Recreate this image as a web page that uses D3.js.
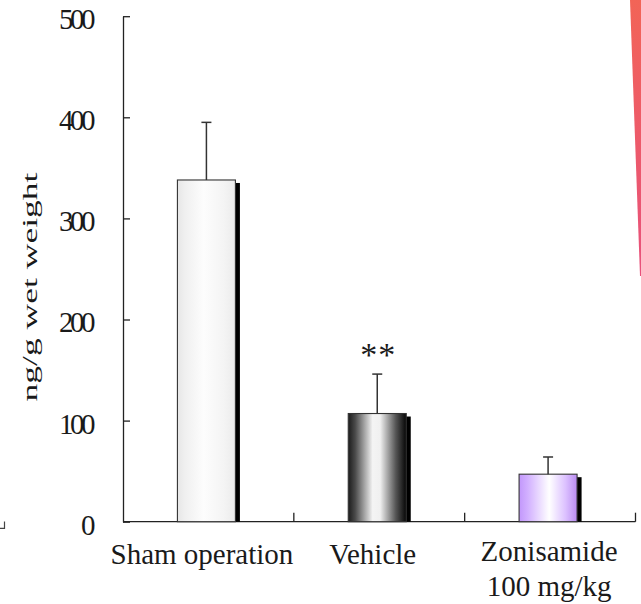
<!DOCTYPE html>
<html>
<head>
<meta charset="utf-8">
<script src="https://cdn.jsdelivr.net/npm/d3@7"></script>
<style>
  html, body { margin: 0; padding: 0; background: #fff; }
  svg { display: block; }
  text { font-family: "Liberation Serif", "Times New Roman", serif; fill: #1a1a1a; }
</style>
</head>
<body>
<svg id="chart" width="641" height="604"></svg>
<script>
// Tissue content per group (mean and upward SEM)
const categories = ["Sham operation", "Vehicle", "Zonisamide 100 mg/kg"];
const labelLines = [["Sham operation"], ["Vehicle"], ["Zonisamide", "100 mg/kg"]];
const means = [338, 107, 47];
const sems = [57, 39, 17];
const marks = ["", "**", ""];
const yTicks = [0, 100, 200, 300, 400, 500];
const yLabel = "ng/g wet weight";

const svg = d3.select("#chart");
const W = 641, H = 604;

svg.append("rect").attr("width", W).attr("height", H).attr("fill", "#fff");

// Gradients for the three bar fills
const defs = svg.append("defs");
const gradSpecs = [
  { id: "g-sham", stops: [[0, "#e6e6e6"], [0.12, "#efefef"], [0.45, "#fdfdfd"], [0.8, "#f4f4f4"], [1, "#ebebeb"]] },
  { id: "g-veh", stops: [[0, "#1c1c1c"], [0.12, "#4a4a4a"], [0.42, "#f4f4f4"], [0.55, "#f0f0f0"], [0.82, "#555"], [1, "#050505"]] },
  { id: "g-zon", stops: [[0, "#c297fb"], [0.15, "#d2b0ff"], [0.52, "#ffffff"], [0.8, "#dcc1ff"], [1, "#b98bf2"]] }
];
gradSpecs.forEach(g => {
  const lg = defs.append("linearGradient").attr("id", g.id)
    .attr("x1", "0").attr("x2", "1").attr("y1", "0").attr("y2", "0");
  g.stops.forEach(s => lg.append("stop").attr("offset", s[0]).attr("stop-color", s[1]));
});
const stripe = defs.append("linearGradient").attr("id", "g-stripe")
  .attr("x1", "0").attr("x2", "0").attr("y1", "0").attr("y2", "1");
stripe.append("stop").attr("offset", 0).attr("stop-color", "#f26457");
stripe.append("stop").attr("offset", 1).attr("stop-color", "#e8517c");

// Scales
const y = d3.scaleLinear().domain([0, 500]).range([521.7, 16.2]);
const x = d3.scaleBand().domain(categories).range([123, 635.5]).padding(0);
const step = x.step();
const barW = 58, shadowW = 4.5, shadowDy = 3;

// Y axis with inward ticks
const yAxis = d3.axisLeft(y).tickValues(yTicks).tickSize(-7).tickSizeOuter(0).tickPadding(31)
  .tickFormat(d3.format("d"));
const gy = svg.append("g").attr("transform", "translate(123,0)").call(yAxis);
gy.attr("font-family", null);
gy.select(".domain").attr("stroke", "#222").attr("stroke-width", 1.3);
gy.selectAll(".tick line").attr("stroke", "#222").attr("stroke-width", 1.3);
gy.selectAll(".tick text")
  .attr("font-size", 29).attr("fill", "#1a1a1a")
  .attr("letter-spacing", -3.5)
  .attr("dy", "0.43em");

// X axis baseline with upward ticks at the band boundaries
const gx = svg.append("g");
gx.append("line")
  .attr("x1", x.range()[0]).attr("x2", x.range()[1])
  .attr("y1", y(0)).attr("y2", y(0))
  .attr("stroke", "#222").attr("stroke-width", 1.3);
gx.selectAll("line.xt").data(categories).join("line").attr("class", "xt")
  .attr("x1", d => x(d) + step).attr("x2", d => x(d) + step)
  .attr("y1", y(0)).attr("y2", y(0) - 9)
  .attr("stroke", "#222").attr("stroke-width", 1.3);

// Bars
const bars = svg.append("g").selectAll("g.bar").data(categories).join("g").attr("class", "bar");
const cx = (d) => x(d) + step / 2 - 2;
bars.append("rect") // drop shadow
  .attr("x", d => cx(d) + barW / 2 - 0.5)
  .attr("y", (d, i) => y(means[i]) + shadowDy)
  .attr("width", shadowW + 0.5)
  .attr("height", (d, i) => y(0) - y(means[i]) - shadowDy)
  .attr("fill", "#000");
bars.append("rect")
  .attr("x", d => cx(d) - barW / 2)
  .attr("y", (d, i) => y(means[i]))
  .attr("width", barW)
  .attr("height", (d, i) => y(0) - y(means[i]))
  .attr("fill", (d, i) => `url(#${gradSpecs[i].id})`)
  .attr("stroke", "#333").attr("stroke-width", 1.1);

// Error bars (upper half only)
bars.append("line")
  .attr("x1", d => cx(d)).attr("x2", d => cx(d))
  .attr("y1", (d, i) => y(means[i])).attr("y2", (d, i) => y(means[i] + sems[i]))
  .attr("stroke", "#333").attr("stroke-width", 1.5);
bars.append("line")
  .attr("x1", d => cx(d) - 5).attr("x2", d => cx(d) + 5)
  .attr("y1", (d, i) => y(means[i] + sems[i])).attr("y2", (d, i) => y(means[i] + sems[i]))
  .attr("stroke", "#333").attr("stroke-width", 1.5);

// Significance marks
bars.append("text")
  .attr("x", d => cx(d) + 1)
  .attr("y", (d, i) => y(means[i] + sems[i]) - 8)
  .attr("text-anchor", "middle")
  .attr("font-size", 34).attr("letter-spacing", 1)
  .attr("fill", "#333")
  .text((d, i) => marks[i]);

// Category labels (two-line label sits centred on its band, single lines slightly left)
const lab = svg.append("g").selectAll("text").data(categories).join("text")
  .attr("text-anchor", "middle").attr("font-size", 29)
  .attr("y", (d, i) => labelLines[i].length > 1 ? 561 : 564);
lab.each(function (d, i) {
  const shift = labelLines[i].length > 1 ? -1 : -6.5;
  d3.select(this).selectAll("tspan").data(labelLines[i]).join("tspan")
    .attr("x", x(d) + step / 2 + shift)
    .attr("dy", (t, j) => j === 0 ? 0 : 35)
    .text(t => t);
});

// Y axis title, rotated and stretched along its length
svg.append("text")
  .attr("transform", "translate(37,287) rotate(-90)")
  .attr("text-anchor", "middle")
  .attr("font-size", 21)
  .attr("textLength", 229).attr("lengthAdjust", "spacingAndGlyphs")
  .text(yLabel);

// Small corner mark at lower left
svg.append("path")
  .attr("d", "M4.5,521.5 V528.3 H0")
  .attr("fill", "none").attr("stroke", "#444").attr("stroke-width", 1.2);

// Decorative stripe along the right edge
svg.append("path")
  .attr("d", "M630,0 L641,0 L641,276 L640,276 Z")
  .attr("fill", "url(#g-stripe)");
</script>
</body>
</html>
